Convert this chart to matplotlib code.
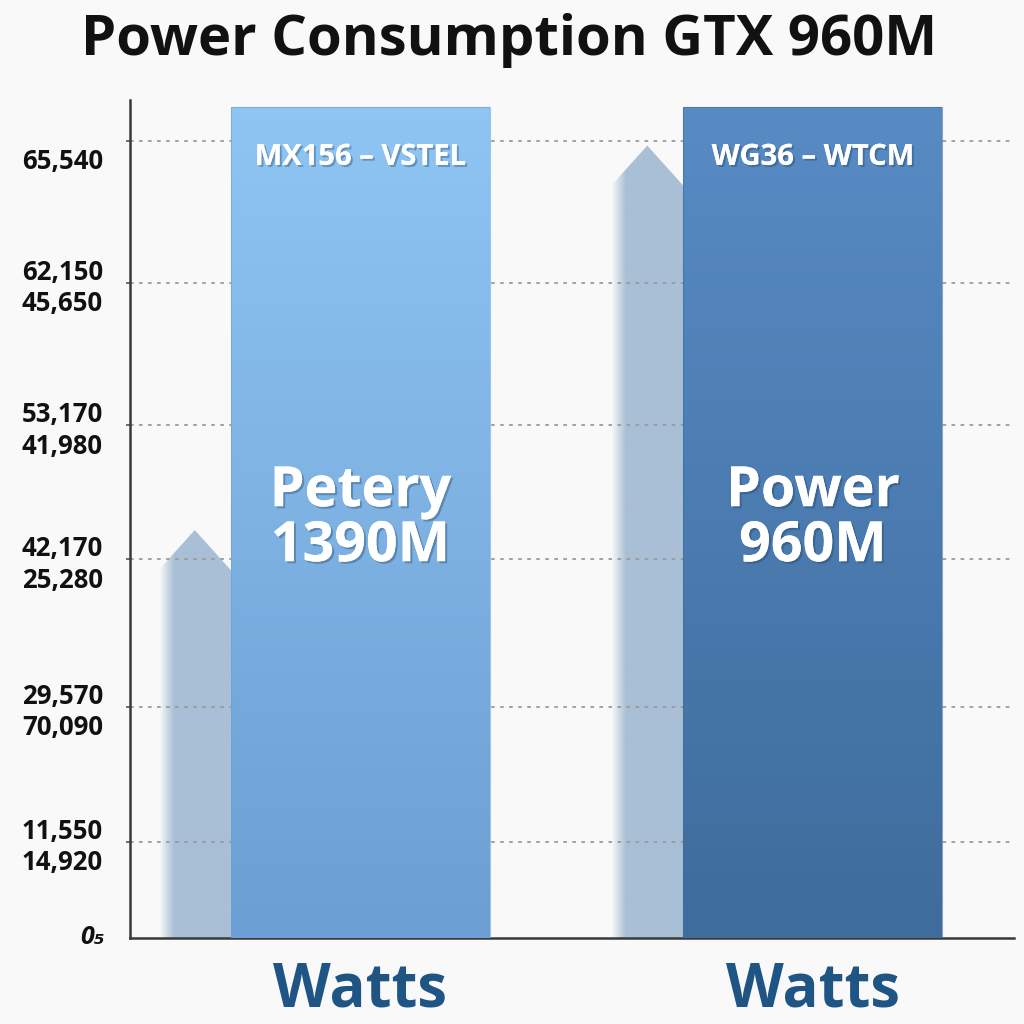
import numpy as np
import matplotlib.pyplot as plt
import matplotlib.patheffects as pe
from matplotlib.patches import Polygon
from matplotlib.colors import LinearSegmentedColormap

plt.rcParams['font.family'] = ['Open Sans', 'DejaVu Sans']

# data
cards = ['MX156 \u2013 VSTEL', 'WG36 \u2013 WTCM']
card_names = ['Petery\n1390M', 'Power\n960M']
bar_values = [99.2, 99.2]
arrow_values = [48.7, 94.6]
grid_pos = [11.5, 27.6, 45.2, 61.2, 78.2, 95.2]
grid_labels = ['11,550\n14,920', '29,570\n70,090', '42,170\n25,280',
               '53,170\n41,980', '62,150\n45,650', '\n65,540']
xlabels = ['Watts', 'Watts']

bg = '#f9f9f9'
fig = plt.figure(figsize=(10.24, 10.24), dpi=100, facecolor=bg)
ax = fig.add_axes([0.127, 0.084, 0.863, 0.818], facecolor=bg)

x = np.arange(len(cards))
w = 0.572
ax.set_xlim(-0.509, 1.444)
ax.set_ylim(0, 100)

# ghost arrows behind the bars, fading in from the left
fade = LinearSegmentedColormap.from_list('fade', ['#f9f9f9', '#a9bfd6', '#a9bfd6'])
grad_h = np.tile(np.linspace(0, 1, 60), (10, 1))
for xi, val in zip(x, arrow_values):
    right = xi - w / 2
    left = right - 0.160
    mid = (left + right) / 2
    head = 4.8
    poly = Polygon([(left, 0), (left, val - head), (mid, val), (right, val - head), (right, 0)],
                   closed=True, facecolor='none', edgecolor='none')
    ax.add_patch(poly)
    im = ax.imshow(grad_h, extent=[left, right, 0, val], cmap=fade, vmin=0, vmax=0.4,
                   aspect='auto', zorder=1, interpolation='bilinear')
    im.set_clip_path(poly)

# dotted grid
for g in grid_pos:
    ax.axhline(g, color='#9a9a9a', lw=1.3, ls=(0, (2, 3)), zorder=2)

# bars with vertical gradient
bar_cols = [('#8ec5f3', '#6c9fd3'), ('#588bc4', '#3e6c9c')]
bars = ax.bar(x, bar_values, width=w, color='none', edgecolor='none', zorder=3)
grad_v = np.linspace(1, 0, 100).reshape(-1, 1)
for b, (top, bot) in zip(bars, bar_cols):
    cm = LinearSegmentedColormap.from_list('b', [bot, top])
    x0, y0 = b.get_x(), b.get_y()
    im = ax.imshow(grad_v, extent=[x0, x0 + b.get_width(), y0, y0 + b.get_height()],
                   cmap=cm, aspect='auto', zorder=3, interpolation='bilinear')
    im.set_clip_path(b)
    ax.bar(b.get_x() + b.get_width() / 2, b.get_height(), width=b.get_width(),
           color='none', edgecolor=bot, lw=0.8, alpha=0.6, zorder=4)

shadow = [pe.withSimplePatchShadow(offset=(1.5, -1.5), shadow_rgbFace='#1c3a5c', alpha=0.35), pe.Normal()]
for xi, val, lab, name in zip(x, bar_values, cards, card_names):
    ax.text(xi, val - 6, lab, ha='center', va='center', color='white',
            fontsize=21, fontweight='bold', zorder=5, path_effects=shadow)
    ax.text(xi, 50.0, name, ha='center', va='center', color='white', fontsize=40,
            fontweight='bold', zorder=5, linespacing=1.0, path_effects=shadow)

ax.set_yticks(grid_pos)
ax.set_yticklabels(grid_labels, fontsize=18.5, fontweight='bold', color='#111111',
                   linespacing=1.2)
ax.tick_params(axis='y', length=3, width=1.2, color='#555555', pad=16.5)
ax.set_xticks(x)
ax.set_xticklabels(xlabels, fontsize=43, fontweight='bold', color='#1f5584')
ax.tick_params(axis='x', length=0, pad=16)

ax.text(-0.565, 0, '0\u2085', ha='right', va='center', fontsize=18, style='italic',
        fontweight='bold', color='#111111')

for s in ['top', 'right']:
    ax.spines[s].set_visible(False)
for s in ['left', 'bottom']:
    ax.spines[s].set_color('#3a3a3a')
    ax.spines[s].set_linewidth(1.8)

fig.text(0.497, 0.960, 'Power Consumption GTX 960M', ha='center', va='center',
         fontsize=40.5, fontweight='bold', color='#111111')

fig.savefig('out.png', dpi=100, facecolor=bg)
